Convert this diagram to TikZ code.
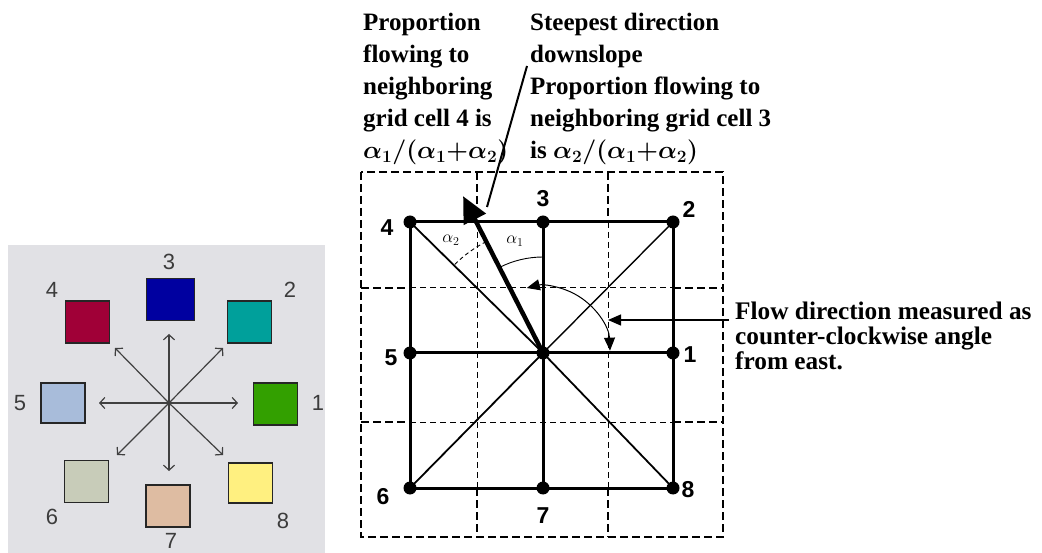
\documentclass[tikz,border=0pt]{standalone}
\usepackage{fontspec}
\setmainfont{Liberation Serif}
\newfontfamily\arialf{Liberation Sans}
\usetikzlibrary{arrows.meta,calc}
\definecolor{panelgray}{RGB}{225,225,229}
\definecolor{cone}{RGB}{51,160,0}
\definecolor{ctwo}{RGB}{0,160,155}
\definecolor{cthree}{RGB}{0,0,160}
\definecolor{cfour}{RGB}{160,0,55}
\definecolor{cfive}{RGB}{168,188,218}
\definecolor{csix}{RGB}{200,204,185}
\definecolor{cseven}{RGB}{222,188,162}
\definecolor{ceight}{RGB}{255,240,128}
\definecolor{numgray}{RGB}{60,60,60}
\begin{document}
\begin{tikzpicture}[x=1pt,y=-1pt,
  sqbox/.style={draw=black!85,line width=1.5pt,inner sep=0,minimum width=44pt,minimum height=42pt},
  dirarrow/.style={draw=black!75,line width=1.2pt,-{Straight Barb[length=5pt,width=11pt]}},
  lnum/.style={font=\arialf\fontsize{22}{22}\selectfont,text=numgray,inner sep=0},
  dot/.style={circle,fill=black,inner sep=0,minimum size=13pt},
  gnum/.style={font=\arialf\bfseries\fontsize{23}{23}\selectfont,inner sep=0},
  gthick/.style={line width=2.8pt,dash pattern=on 8pt off 4pt},
  gthin/.style={line width=1pt,dash pattern=on 6pt off 4pt},
  solidline/.style={line width=3pt},
  diagline/.style={line width=1.8pt},
  annot/.style={font=\bfseries\boldmath\fontsize{25}{32}\selectfont,align=left,inner sep=0,anchor=north west},
  alab/.style={font=\fontsize{17}{17}\selectfont,inner sep=0}
]
\useasboundingbox (0,0) rectangle (1042,553);
\fill[white] (0,0) rectangle (1042,553);

% ---------- left panel ----------
\fill[panelgray] (8,245) rectangle (325,553);
\node[sqbox,fill=cfour] (s4) at (87.5,322) {};
\node[sqbox,fill=cthree,minimum width=48pt] (s3) at (170.5,299.5) {};
\node[sqbox,fill=ctwo] (s2) at (249.5,322) {};
\node[sqbox,fill=cfive,minimum height=40pt] (s5) at (63,403) {};
\node[sqbox,fill=cone] (s1) at (275.5,404) {};
\node[sqbox,fill=csix] (s6) at (86.5,481.5) {};
\node[sqbox,fill=ceight,minimum height=40pt] (s8) at (250.5,483) {};
\node[sqbox,fill=cseven] (s7) at (168,506) {};

\node[lnum] (l3) at (169,262) {3};
\node[lnum] (l4) at (52,290) {4};
\node[lnum] (l2) at (290,290) {2};
\node[lnum] (l5) at (20,403) {5};
\node[lnum] (l1) at (318,403) {1};
\node[lnum] (l6) at (52,517) {6};
\node[lnum] (l8) at (283,521) {8};
\node[lnum] (l7) at (171,541) {7};

\node[circle,fill=black,inner sep=0,minimum size=5pt] (lc) at (169,403) {};
\coordinate (aE) at (238,403);
\coordinate (aW) at (99,403);
\coordinate (aN) at (169,334);
\coordinate (aS) at (169,471);
\coordinate (aNE) at (223,348);
\coordinate (aNW) at (115,348);
\coordinate (aSW) at (117,455);
\coordinate (aSE) at (223,455);
\foreach \t in {aE,aW,aN,aS,aNE,aNW,aSW,aSE}
  \draw[dirarrow] (lc.center) -- (\t);

% ---------- right panel: dashed grid ----------
\draw[gthick] (361,172) rectangle (723,537);
\draw[gthick] (477,172) -- (477,222);
\draw[gthick] (477,488) -- (477,537);
\draw[gthick] (608,172) -- (608,222);
\draw[gthick] (608,488) -- (608,537);
\draw[gthick] (361,288) -- (410,288);
\draw[gthick] (673,288) -- (723,288);
\draw[gthick] (361,422) -- (410,422);
\draw[gthick] (673,422) -- (723,422);
\draw[gthin] (477,222) -- (477,488);
\draw[gthin] (608,222) -- (608,488);
\draw[gthin] (410,288) -- (673,288);
\draw[gthin] (410,422) -- (673,422);

% ---------- right panel: cells ----------
\node[dot] (n4) at (410,222) {};
\node[dot] (n3) at (543,222) {};
\node[dot] (n2) at (673,222) {};
\node[dot] (n5) at (410,353) {};
\node[dot] (nc) at (543,353) {};
\node[dot] (n1) at (673,353) {};
\node[dot] (n6) at (410,488) {};
\node[dot] (n7) at (543,488) {};
\node[dot] (n8) at (673,488) {};

\draw[solidline] (n4.center) -- (n3.center) -- (n2.center) -- (n1.center) -- (n8.center)
  -- (n7.center) -- (n6.center) -- (n5.center) -- cycle;
\draw[solidline] (n3.center) -- (n7.center);
\draw[solidline] (n5.center) -- (n1.center);
\draw[diagline] (nc.center) -- (n4.center);
\draw[line width=1.4pt] (nc.center) -- (n2.center);
\draw[diagline] (nc.center) -- (n6.center);
\draw[diagline] (nc.center) -- (n8.center);

\node[gnum] (g4) at (387,228) {4};
\node[gnum] (g3) at (543,199) {3};
\node[gnum] (g2) at (689,209) {2};
\node[gnum] (g5) at (391,358) {5};
\node[gnum] (g1) at (690,355) {1};
\node[gnum] (g6) at (383,497) {6};
\node[gnum] (g7) at (543,516) {7};
\node[gnum] (g8) at (688,490) {8};

% steepest direction arrow
\coordinate (steep) at ($(nc.center)+(-117:176)$);
\draw[line width=4.5pt,-{Triangle[length=26pt,width=24pt]}] (nc.center) -- (steep);

% angle arcs
\draw[line width=0.9pt] (nc.center) ++(-90:96) arc[start angle=-90,end angle=-117,radius=96];
\draw[line width=0.9pt,dash pattern=on 4pt off 3pt] (nc.center) ++(-117:125) arc[start angle=-117,end angle=-135,radius=125];
\node[alab] (al1) at (515,241) {$\alpha_1$};
\node[alab] (al2) at (451,240) {$\alpha_2$};

% flow direction arc
\draw[line width=1pt,{Triangle[length=13pt,width=11pt]}-{Triangle[length=13pt,width=11pt]}]
  (nc.center) ++(-2:67) arc[start angle=-2,end angle=-104,radius=67];

% annotations
\node[annot] (tl) at (363,13) {Proportion\\flowing to\\neighboring\\grid cell 4 is\\$\alpha_1/(\alpha_1{+}\alpha_2)$};
\node[annot] (tr) at (530,13) {Steepest direction\\downslope\\Proportion flowing to\\neighboring grid cell 3\\is $\alpha_2/(\alpha_1{+}\alpha_2)$};
\node[annot,font=\bfseries\fontsize{25.3}{25}\selectfont] (tf) at (735,302) {Flow direction measured as\\counter-clockwise angle\\from east.};

\coordinate (sdtop) at (527,66);
\coordinate (sdbot) at (487,207);
\draw[line width=2pt] (sdtop) -- (sdbot);
\coordinate (flw) at (729,320);
\coordinate (flwtip) at (608,320);
\draw[line width=1.2pt,-{Triangle[length=13pt,width=11pt]}] (flw) -- (flwtip);
\end{tikzpicture}
\end{document}
